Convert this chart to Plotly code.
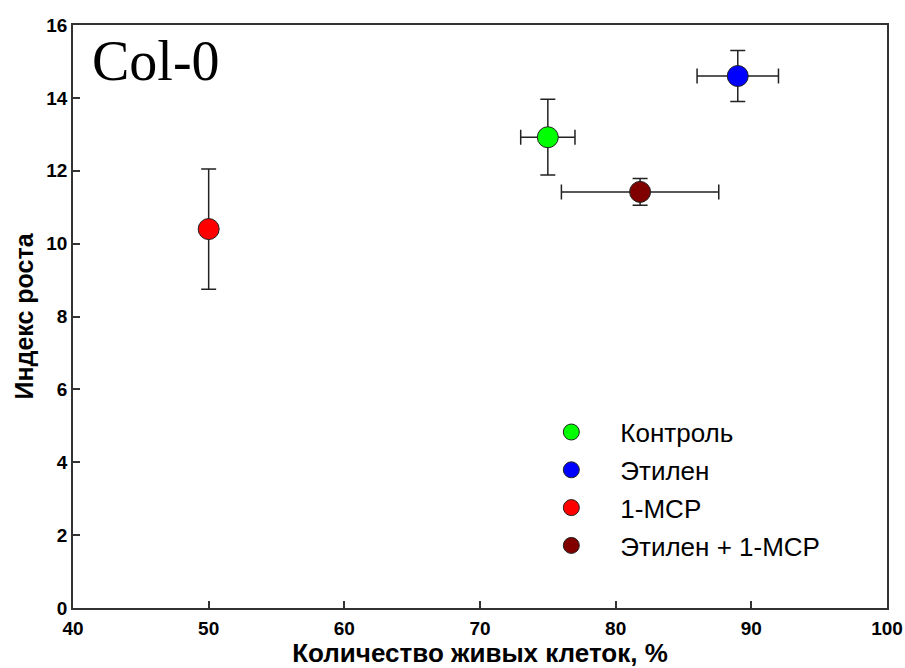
import plotly.graph_objects as go

names = ["Контроль", "Этилен", "1-MCP", "Этилен + 1-MCP"]
colors = ["#00ff00", "#0000ff", "#ff0000", "#800000"]
viable_cells = [75.0, 89.0, 50.0, 81.8]
viable_err = [2.0, 3.0, 0.0, 5.8]
growth_index = [12.92, 14.6, 10.4, 11.42]
growth_err = [1.04, 0.7, 1.65, 0.37]

fig = go.Figure()
for i, n in enumerate(names):
    fig.add_trace(go.Scatter(
        x=[viable_cells[i]], y=[growth_index[i]], name=n, mode="markers",
        legendgroup=f"g{i}",
        marker=dict(size=21, color=colors[i], line=dict(color="#222222", width=1)),
        error_x=dict(type="data", array=[viable_err[i]], visible=viable_err[i] > 0,
                     color="#222222", thickness=1.5, width=7.5),
        error_y=dict(type="data", array=[growth_err[i]], visible=True,
                     color="#222222", thickness=1.5, width=7.5),
    ))

axis_font = dict(family="Liberation Sans, Arial", size=19, color="black", weight="bold")
fig.update_layout(
    width=905, height=668,
    margin=dict(l=73, r=18, t=25, b=60),
    paper_bgcolor="white", plot_bgcolor="white",
    showlegend=True,
    legend=dict(x=0.552, y=0.342, xanchor="left", yanchor="top",
                font=dict(family="Liberation Sans, Arial", size=26, color="black"),
                tracegroupgap=1, bgcolor="rgba(0,0,0,0)", itemsizing="trace",
                itemwidth=88),
    xaxis=dict(range=[40, 100], tickvals=[40, 50, 60, 70, 80, 90, 100],
               ticks="inside", ticklen=7, tickwidth=1.5, tickcolor="#333333",
               showline=True, linecolor="#333333", linewidth=1.5, mirror=True,
               showgrid=False, zeroline=False, tickfont=axis_font,
               ticklabelstandoff=2, automargin=False,
               title=dict(text="Количество живых клеток, %",
                          font=dict(family="Liberation Sans, Arial", size=26,
                                    color="black", weight="bold"),
                          standoff=10)),
    yaxis=dict(range=[0, 16], tickvals=[0, 2, 4, 6, 8, 10, 12, 14, 16],
               ticks="inside", ticklen=7, tickwidth=1.5, tickcolor="#333333",
               showline=True, linecolor="#333333", linewidth=1.5, mirror=True,
               showgrid=False, zeroline=False, tickfont=axis_font,
               automargin=False,
               title=dict(text="Индекс роста",
                          font=dict(family="Liberation Sans, Arial", size=25,
                                    color="black", weight="bold"),
                          standoff=6)),
    annotations=[dict(text="Col-0", xref="paper", yref="paper", x=0.021, y=0.994,
                      xanchor="left", yanchor="top", showarrow=False,
                      font=dict(family="Liberation Serif, Times New Roman", size=56, color="black"))],
)
fig.write_html("out.html")
